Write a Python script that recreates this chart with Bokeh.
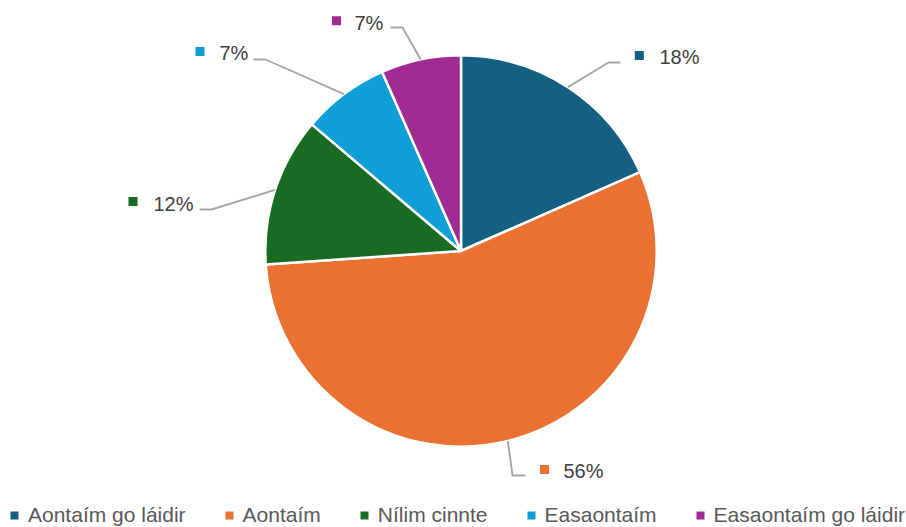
import math
from bokeh.plotting import figure
from bokeh.models import ColumnDataSource, Range1d, Legend, LegendItem
from bokeh.core.properties import value
from bokeh.embed import file_html
from bokeh.resources import INLINE

# ---- data ----
categories = ["Aontaím go láidir", "Aontaím", "Nílim cinnte", "Easaontaím", "Easaontaím go láidir"]
values = [18.4, 55.5, 12.3, 7.2, 6.6]
pct_labels = ["18%", "56%", "12%", "7%", "7%"]
colors = ["#156082", "#E97132", "#196B24", "#0F9ED5", "#A02B93"]

# ---- layout (page pixel coords) ----
W, H = 906, 527
def fx(px):
    return px
def fy(py):
    return H - py

CX, CY, R = fx(460.5), fy(250.5), 195.7
marker_pos = [(638.8, 55), (544, 469), (132.5, 201), (199.5, 51), (336, 20.3)]
text_pos = [(659, 56.5), (563, 470.5), (153, 203), (219, 52), (354, 22.5)]
elbows = [(608, 62), (512, 475), (211, 209), (265, 59), (402, 27)]
ends = [(620, 62), (525, 475), (199, 209), (253, 59), (390, 27)]

total = sum(values)
starts, stops, mids = [], [], []
cum = 0.0
for v in values:
    a0 = math.pi / 2 - 2 * math.pi * cum / total
    cum += v
    a1 = math.pi / 2 - 2 * math.pi * cum / total
    starts.append(a0)
    stops.append(a1)
    mids.append((a0 + a1) / 2)

src = ColumnDataSource(dict(
    start=starts, end=stops, color=colors, cat=categories,
    x=[CX] * len(values), y=[CY] * len(values),
))

p = figure(width=W, height=H, output_backend="svg", toolbar_location=None,
           x_range=Range1d(0, W), y_range=Range1d(0, H), min_border=0)
p.axis.visible = False
p.grid.visible = False
p.outline_line_color = None
p.background_fill_color = "white"
p.border_fill_color = "white"

wr = p.wedge(x="x", y="y", radius=R, start_angle="start", end_angle="end",
             direction="clock", fill_color="color", line_color="white",
             line_width=2.5, source=src)

# leader lines
xs, ys = [], []
for i, m in enumerate(mids):
    sx, sy = CX + R * math.cos(m), CY + R * math.sin(m)
    ex, ey = elbows[i]
    tx, ty = ends[i]
    xs.append([sx, fx(ex), fx(tx)])
    ys.append([sy, fy(ey), fy(ty)])
p.multi_line(xs=xs, ys=ys, line_color="#A6A6A6", line_width=1.9)

# label markers and text
msrc = ColumnDataSource(dict(
    x=[fx(a) for a, b in marker_pos], y=[fy(b) for a, b in marker_pos], color=colors))
mr = p.scatter(x="x", y="y", marker="square", size=9, fill_color="color",
               line_color=None, source=msrc)
p.text(x=[fx(a) for a, b in text_pos], y=[fy(b) for a, b in text_pos], text=pct_labels,
       text_font=value("Liberation Sans"), text_font_size="20px", text_color="#404040",
       text_align="left", text_baseline="middle")

items = [LegendItem(label=c, renderers=[mr], index=i) for i, c in enumerate(categories)]
legend = Legend(items=items, orientation="horizontal", location=(4, 0),
                glyph_width=20, glyph_height=20, label_standoff=4, spacing=33,
                padding=0, margin=0, border_line_color=None, background_fill_alpha=0,
                label_text_font="Liberation Sans", label_text_font_size="21px",
                label_text_color="#595959", label_height=20)
p.add_layout(legend)

open("out.html", "w").write(file_html(p, INLINE))
